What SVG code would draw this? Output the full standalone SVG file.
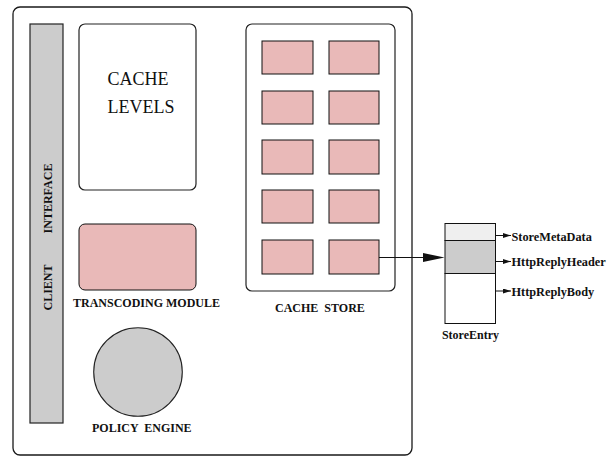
<svg xmlns="http://www.w3.org/2000/svg" width="613" height="458" viewBox="0 0 613 458">
  <style>
    .frame { fill: #ffffff; stroke: #1a1a1a; stroke-width: 1.3; }
    .panel { fill: #ffffff; stroke: #222222; stroke-width: 1.2; }
    .cell { fill: #e9b9b8; stroke: #111111; stroke-width: 1; }
    .grey { fill: #cccccc; stroke: #222222; stroke-width: 1.2; }
    text { font-family: 'Liberation Serif', 'Times New Roman', serif; fill: #111111; }
    .lbl { font-weight: bold; font-size: 12px; }
    .field { font-weight: bold; font-size: 12.3px; }
    .big { font-size: 18px; }
    .wire { stroke: #111111; stroke-width: 1; fill: none; }
  </style>
  <defs>
    <marker id="tip" viewBox="0 0 8 6" refX="8" refY="3" markerWidth="8" markerHeight="5" markerUnits="userSpaceOnUse" orient="auto" preserveAspectRatio="none">
      <path d="M0,0 L8,3 L0,6 Z" fill="#111111"/>
    </marker>
  </defs>

  <!-- proxy cache frame -->
  <rect id="frame" class="frame" x="13" y="7" width="399" height="448" rx="7"/>

  <g id="client-interface">
    <rect class="grey" x="30" y="24" width="33" height="399"/>
    <text class="lbl" text-anchor="middle" transform="translate(52,198.5) rotate(-90)">INTERFACE</text>
    <text class="lbl" text-anchor="middle" transform="translate(52,287.5) rotate(-90)">CLIENT</text>
  </g>

  <g id="cache-levels">
    <rect class="panel" x="79" y="24" width="117" height="166" rx="6"/>
    <text class="big" x="107.5" y="85">CACHE</text>
    <text class="big" x="107.5" y="113">LEVELS</text>
  </g>

  <g id="transcoding-module">
    <rect class="cell" x="79" y="224" width="117" height="66" rx="6"/>
    <text class="lbl" x="73" y="307">TRANSCODING MODULE</text>
  </g>

  <g id="policy-engine">
    <circle cx="138" cy="372" r="44.3" fill="#cccccc" stroke="#222222" stroke-width="1.1"/>
    <text class="lbl" x="92" y="432" xml:space="preserve">POLICY  ENGINE</text>
  </g>

  <g id="cache-store">
    <rect class="panel" x="246" y="24" width="149" height="267" rx="6"/>
    <rect class="cell" x="262" y="41" width="51" height="33"/>
    <rect class="cell" x="329" y="41" width="50" height="33"/>
    <rect class="cell" x="262" y="91" width="51" height="33"/>
    <rect class="cell" x="329" y="91" width="50" height="33"/>
    <rect class="cell" x="262" y="140" width="51" height="34"/>
    <rect class="cell" x="329" y="140" width="50" height="34"/>
    <rect class="cell" x="262" y="190" width="51" height="33"/>
    <rect class="cell" x="329" y="190" width="50" height="33"/>
    <rect class="cell" x="262" y="240" width="51" height="34"/>
    <rect class="cell" x="329" y="240" width="50" height="34"/>
    <text class="lbl" x="275" y="312" xml:space="preserve">CACHE  STORE</text>
  </g>

  <g id="store-entry">
    <rect x="445" y="223.5" width="50.5" height="17" fill="#efefef" stroke="#111111" stroke-width="1"/>
    <rect x="445" y="240.5" width="50.5" height="33" fill="#cccccc" stroke="#111111" stroke-width="1"/>
    <rect x="445" y="273.5" width="50.5" height="50" fill="#ffffff" stroke="#111111" stroke-width="1"/>
    <text class="lbl" x="470.5" y="338.5" text-anchor="middle">StoreEntry</text>
    <text class="field" x="511.5" y="240.5">StoreMetaData</text>
    <text class="field" x="511.5" y="266">HttpReplyHeader</text>
    <text class="field" x="511.5" y="295.5">HttpReplyBody</text>
  </g>

  <g id="connectors">
    <line class="wire" x1="379" y1="257.5" x2="424" y2="257.5"/>
    <polygon points="423,253 444.5,257.5 423,262" fill="#111111"/>
    <line class="wire" x1="495.5" y1="235.5" x2="511" y2="235.5" marker-end="url(#tip)"/>
    <line class="wire" x1="495.5" y1="261.5" x2="511" y2="261.5" marker-end="url(#tip)"/>
    <line class="wire" x1="495.5" y1="291" x2="511" y2="291" marker-end="url(#tip)"/>
  </g>
</svg>
